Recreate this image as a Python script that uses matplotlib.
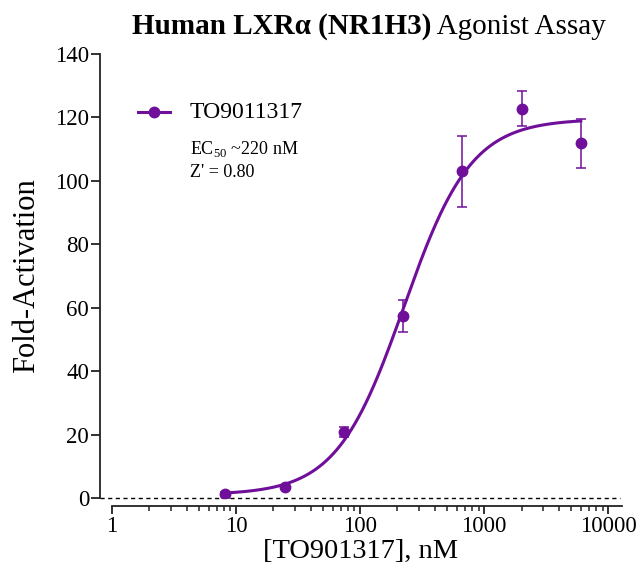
import numpy as np
import matplotlib
matplotlib.use('Agg')
import matplotlib.pyplot as plt
from matplotlib.ticker import FixedLocator

plt.rcParams['font.family'] = ['Liberation Serif', 'DejaVu Serif']
plt.rcParams['mathtext.fontset'] = 'custom'
plt.rcParams['mathtext.rm'] = 'Liberation Serif'

# measured points
conc_nM = [8.2, 24.7, 74, 222, 667, 2000, 6000]
fold_act = [1.3, 3.4, 20.8, 57.5, 103, 122.8, 111.8]
fold_err = [0.6, 0.6, 1.6, 5.0, 11.2, 5.6, 7.6]

# 4PL fit parameters
bottom, top, ec50, hill = 1.0, 119.5, 225.0, 1.6

purple = '#6f0f9a'

fig = plt.figure(figsize=(6.41, 5.76), dpi=100)
ax = fig.add_axes([100/641, 1-498/576, (622-100)/641, (498-54)/576])

xfit = np.logspace(np.log10(conc_nM[0]), np.log10(conc_nM[-1]), 300)
yfit = bottom + (top - bottom) / (1 + (ec50 / xfit) ** hill)
ax.plot(xfit, yfit, color=purple, lw=2.2, zorder=3)
ax.errorbar(conc_nM, fold_act, yerr=fold_err, fmt='o', color=purple, ms=7.5,
            elinewidth=1.1, capsize=3.3, capthick=1.1, zorder=4)
ax.plot([0.8, 12500], [0, 0], color='black', lw=1.0, ls=(0, (3, 2.5)),
        zorder=1, clip_on=False)

ax.set_xscale('log')
ax.set_xlim(0.8, 12900)
ax.set_ylim(0, 140)
ax.set_yticks(range(0, 141, 20))
ax.set_xticks([1, 10, 100, 1000, 10000])
ax.set_xticklabels(['1', '10', '100', '1000', '10000'])
minors = [m * 10 ** d for d in range(4) for m in range(2, 10)] + [20000]
ax.xaxis.set_minor_locator(FixedLocator([v for v in minors if v < 12900]))

for s in ['top', 'right']:
    ax.spines[s].set_visible(False)
ax.spines['bottom'].set_position(('outward', 5.8))
ax.spines['bottom'].set_bounds(1, 12900)
for s in ['left', 'bottom']:
    ax.spines[s].set_linewidth(1.3)
    ax.spines[s].set_color('#222222')

ax.tick_params(axis='both', which='major', length=6.3, width=1.3, color='#222222',
               labelsize=16.5, pad=1.5)
ax.tick_params(axis='x', which='minor', length=3.3, width=1.1, color='#222222')
ax.tick_params(axis='x', which='major', length=5.8, pad=1.5)

ax.set_xlabel('[TO901317], nM', fontsize=20.5, labelpad=1)
ax.set_ylabel('Fold-Activation', fontsize=22, labelpad=10)

# legend drawn by hand
ax.plot([0.073, 0.134], [0.869, 0.869], color=purple, lw=2.2,
        transform=ax.transAxes, clip_on=False)
ax.plot([0.103], [0.869], 'o', color=purple, ms=7.5, transform=ax.transAxes)
ax.text(0.172, 0.869, 'TO9011317', transform=ax.transAxes, fontsize=17,
        va='center')
ax.text(0.172, 0.786, 'EC$_{\\mathregular{50}}$ ~220 nM', transform=ax.transAxes,
        fontsize=13, va='center')
ax.text(0.172, 0.734, "Z' = 0.80", transform=ax.transAxes, fontsize=13,
        va='center')

# title: bold part + regular part, centred together
t1 = fig.text(0, 0, 'Human LXR\u03b1 (NR1H3)', fontsize=21, fontweight='bold')
t2 = fig.text(0, 0, ' Agonist Assay', fontsize=21)
fig.canvas.draw()
r = fig.canvas.get_renderer()
w1 = t1.get_window_extent(r).width
w2 = t2.get_window_extent(r).width
x0 = (369 - (w1 + w2) / 2) / 641
ty = 1 - 34 / 576
t1.set_position((x0, ty))
t2.set_position((x0 + w1 / 641, ty))

fig.savefig('out.png', dpi=100)
